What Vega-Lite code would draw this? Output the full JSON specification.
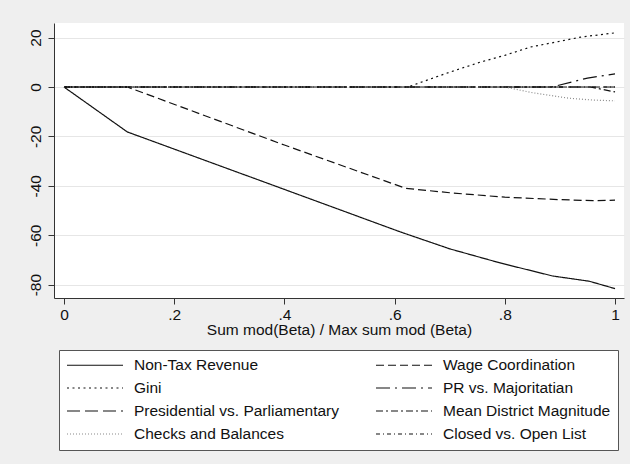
{
  "$schema": "https://vega.github.io/schema/vega-lite/v6.json",
  "width": 570,
  "height": 275,
  "autosize": {"type": "none"},
  "padding": {"left": 54, "top": 23, "right": 6, "bottom": 166},
  "background": "#efefef",
  "config": {
    "font": "Liberation Sans",
    "view": {"fill": "white", "stroke": null},
    "axis": {
      "domainColor": "#333333",
      "tickColor": "#333333",
      "tickSize": 6,
      "labelFontSize": 15.5,
      "labelColor": "#111111",
      "titleFontSize": 15.5,
      "titleFontWeight": "normal",
      "titleColor": "#111111"
    },
    "legend": {
      "title": null,
      "orient": "none",
      "legendX": 5,
      "legendY": 327,
      "direction": "horizontal",
      "columns": 2,
      "symbolType": "M-1,0H7",
      "symbolSize": 196,
      "symbolStrokeWidth": 1.2,
      "symbolFillColor": "transparent",
      "labelFontSize": 15.5,
      "labelColor": "#111111",
      "labelOffset": 52,
      "labelLimit": 400,
      "rowPadding": 6,
      "columnPadding": 33,
      "padding": 7,
      "fillColor": "white",
      "strokeColor": "#555555"
    }
  },
  "data": {
    "values": [
      {"series": "Non-Tax Revenue", "x": 0, "y": 0},
      {"series": "Non-Tax Revenue", "x": 0.115, "y": -18.2},
      {"series": "Non-Tax Revenue", "x": 0.37, "y": -39.0},
      {"series": "Non-Tax Revenue", "x": 0.611, "y": -58.7},
      {"series": "Non-Tax Revenue", "x": 0.7, "y": -65.5},
      {"series": "Non-Tax Revenue", "x": 0.793, "y": -71.3},
      {"series": "Non-Tax Revenue", "x": 0.887, "y": -76.5},
      {"series": "Non-Tax Revenue", "x": 0.953, "y": -78.6},
      {"series": "Non-Tax Revenue", "x": 1, "y": -81.6},

      {"series": "Wage Coordination", "x": 0, "y": 0},
      {"series": "Wage Coordination", "x": 0.115, "y": 0},
      {"series": "Wage Coordination", "x": 0.4, "y": -23.5},
      {"series": "Wage Coordination", "x": 0.62, "y": -41.0},
      {"series": "Wage Coordination", "x": 0.7, "y": -42.8},
      {"series": "Wage Coordination", "x": 0.8, "y": -44.6},
      {"series": "Wage Coordination", "x": 0.9, "y": -45.6},
      {"series": "Wage Coordination", "x": 0.96, "y": -46.0},
      {"series": "Wage Coordination", "x": 1, "y": -45.8},

      {"series": "Gini", "x": 0, "y": 0},
      {"series": "Gini", "x": 0.624, "y": 0},
      {"series": "Gini", "x": 0.7, "y": 6.0},
      {"series": "Gini", "x": 0.756, "y": 10.1},
      {"series": "Gini", "x": 0.8, "y": 12.8},
      {"series": "Gini", "x": 0.847, "y": 16.2},
      {"series": "Gini", "x": 0.9, "y": 18.5},
      {"series": "Gini", "x": 0.938, "y": 20.2},
      {"series": "Gini", "x": 1, "y": 21.9},

      {"series": "PR vs. Majoritatian", "x": 0, "y": 0},
      {"series": "PR vs. Majoritatian", "x": 0.885, "y": 0},
      {"series": "PR vs. Majoritatian", "x": 0.95, "y": 3.6},
      {"series": "PR vs. Majoritatian", "x": 1, "y": 5.3},

      {"series": "Presidential vs. Parliamentary", "x": 0, "y": 0},
      {"series": "Presidential vs. Parliamentary", "x": 1, "y": 0},

      {"series": "Mean District Magnitude", "x": 0, "y": 0},
      {"series": "Mean District Magnitude", "x": 0.955, "y": 0},
      {"series": "Mean District Magnitude", "x": 1, "y": -2.0},

      {"series": "Checks and Balances", "x": 0, "y": 0},
      {"series": "Checks and Balances", "x": 0.8, "y": 0},
      {"series": "Checks and Balances", "x": 0.85, "y": -2.3},
      {"series": "Checks and Balances", "x": 0.915, "y": -4.5},
      {"series": "Checks and Balances", "x": 0.96, "y": -5.3},
      {"series": "Checks and Balances", "x": 1, "y": -5.6},

      {"series": "Closed vs. Open List", "x": 0, "y": 0},
      {"series": "Closed vs. Open List", "x": 1, "y": 0}
    ]
  },
  "mark": {"type": "line", "strokeWidth": 1.2},
  "encoding": {
    "x": {
      "field": "x",
      "type": "quantitative",
      "scale": {"domain": [-0.0181, 1.0163], "nice": false, "zero": false},
      "axis": {
        "values": [0, 0.2, 0.4, 0.6, 0.8, 1],
        "labelExpr": "datum.value == 0 ? '0' : datum.value == 1 ? '1' : replace(format(datum.value, '.1f'), '0.', '.')",
        "grid": false,
        "labelPadding": 3,
        "title": "Sum mod(Beta) / Max sum mod (Beta)",
        "titlePadding": 0
      }
    },
    "y": {
      "field": "y",
      "type": "quantitative",
      "scale": {"domain": [-85.4, 25.9], "nice": false, "zero": false},
      "axis": {
        "values": [-80, -60, -40, -20, 0, 20],
        "labelExpr": "'' + datum.value",
        "labelAngle": 270,
        "labelAlign": "center",
        "labelBaseline": "bottom",
        "labelPadding": 5,
        "grid": true,
        "gridColor": "#e6e6e6",
        "title": null
      }
    },
    "strokeDash": {
      "field": "series",
      "type": "nominal",
      "scale": {
        "domain": ["Non-Tax Revenue", "Wage Coordination", "Gini", "PR vs. Majoritatian", "Presidential vs. Parliamentary", "Mean District Magnitude", "Checks and Balances", "Closed vs. Open List"],
        "range": [[1, 0], [8, 4], [2, 3.5], [14, 5, 2, 5], [13, 5], [7, 3, 2, 3], [1, 2], [4, 3, 1, 3]]
      }
    },
    "color": {
      "field": "series",
      "type": "nominal",
      "scale": {
        "domain": ["Non-Tax Revenue", "Wage Coordination", "Gini", "PR vs. Majoritatian", "Presidential vs. Parliamentary", "Mean District Magnitude", "Checks and Balances", "Closed vs. Open List"],
        "range": ["#111111", "#111111", "#111111", "#111111", "#111111", "#111111", "#8a8a8a", "#111111"]
      }
    }
  }
}
